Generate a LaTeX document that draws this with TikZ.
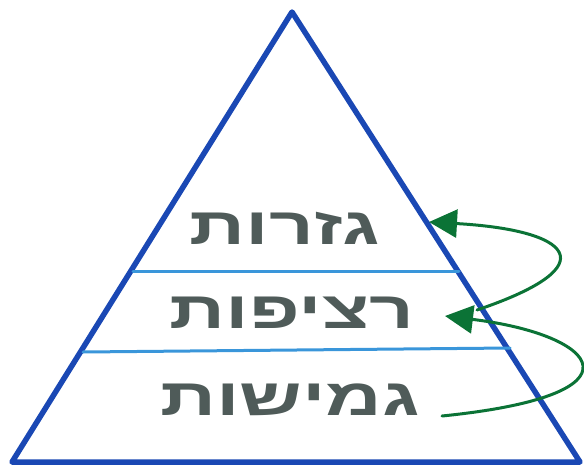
\documentclass[tikz,border=0pt]{standalone}
\usepackage{fontspec}
\usetikzlibrary{arrows.meta}
\TeXXeTstate=1
\newfontfamily\hebfont[Script=Hebrew]{Liberation Sans}
\definecolor{pyrblue}{HTML}{1A48B4}
\definecolor{levelblue}{HTML}{3A96DA}
\definecolor{arrgreen}{HTML}{0B7336}
\definecolor{textgray}{HTML}{4F5B59}
\begin{document}
\begin{tikzpicture}[x=1pt,y=-1pt,
  pyr/.style={draw=pyrblue,line width=5.5pt,line join=round},
  level/.style={draw=levelblue,line width=3pt,line cap=round},
  word/.style={text=textgray,font=\hebfont\bfseries\fontsize{52}{52}\selectfont,inner sep=0pt,xscale=1.5},
  flow/.style={draw=arrgreen,line width=3pt,line cap=round,
    -{Triangle[length=28pt,width=28pt]}}]
\useasboundingbox (0,0) rectangle (584,466);
\coordinate (apex) at (292,12);
\coordinate (bl) at (12,462);
\coordinate (br) at (580,462);
\draw[pyr] (apex) -- (br) -- (bl) -- cycle;
\coordinate (l1a) at (133,271);
\coordinate (l1b) at (459,271);
\coordinate (l2a) at (83,352);
\coordinate (l2b) at (510,348);
\draw[level] (l1a) -- (l1b);
\draw[level] (l2a) -- (l2b);
\node[word] (top) at (285,228) {\beginR גזרות\endR};
\node[word] (mid) at (292,313) {\beginR רציפות\endR};
\node[word] (bot) at (290,400) {\beginR גמישות\endR};
\coordinate (s1) at (442,416);
\coordinate (e1) at (445,316);
\coordinate (s2) at (477,310);
\coordinate (e2) at (429,222);
\draw[flow] (s1) .. controls (650,395) and (600,335) .. (e1);
\draw[flow] (s2) .. controls (610,265) and (570,230) .. (e2);
\end{tikzpicture}
\end{document}
